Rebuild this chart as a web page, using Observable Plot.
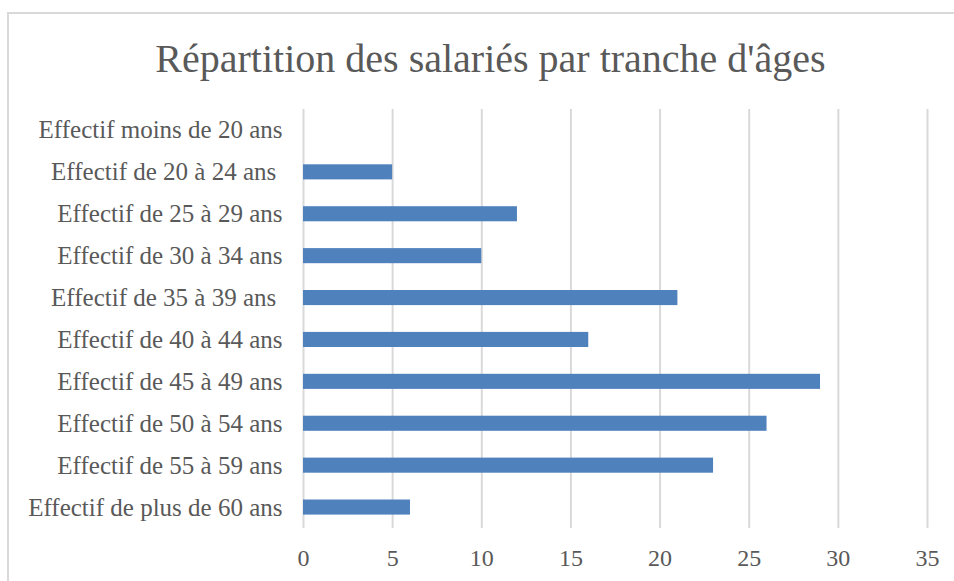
<!DOCTYPE html>
<html>
<head>
<meta charset="utf-8">
<script src="https://cdn.jsdelivr.net/npm/d3@7"></script>
<script src="https://cdn.jsdelivr.net/npm/@observablehq/plot@0.6"></script>
<style>
  html, body { margin: 0; padding: 0; background: #fff; }
  #wrap { position: relative; width: 954px; height: 581px; overflow: hidden; }
  #frame { position: absolute; left: 7px; top: 12px; width: 960px; height: 600px; border: 2px solid #d9d9d9; box-sizing: border-box; }
  #chart { position: absolute; left: 0; top: 0; }
</style>
</head>
<body>
<div id="wrap"><div id="frame"></div><div id="chart"></div></div>
<script>
const title = "Répartition des salariés par tranche d'âges";
const categories = [
  "Effectif moins de 20 ans",
  "Effectif de 20 à 24 ans ",
  "Effectif de 25 à 29 ans",
  "Effectif de 30 à 34 ans",
  "Effectif de 35 à 39 ans ",
  "Effectif de 40 à 44 ans",
  "Effectif de 45 à 49 ans",
  "Effectif de 50 à 54 ans",
  "Effectif de 55 à 59 ans",
  "Effectif de plus de 60 ans"
];
const values = [0, 5, 12, 10, 21, 16, 29, 26, 23, 6];
const xTicks = [0, 5, 10, 15, 20, 25, 30, 35];

const data = categories.map((c, i) => ({category: c, value: values[i]}));
const font = "'Liberation Serif', 'DejaVu Serif', serif";
const grey = "#595959";

const chart = Plot.plot({
  width: 954,
  height: 581,
  marginLeft: 303,
  marginRight: 27,
  marginTop: 109,
  marginBottom: 53,
  style: {fontFamily: font, color: grey, background: "transparent"},
  x: {domain: [0, 35], label: null},
  y: {domain: categories, paddingInner: 0.64, paddingOuter: 0.32, round: false, label: null},
  marks: [
    Plot.gridX(xTicks, {stroke: "#d9d9d9", strokeOpacity: 1, strokeWidth: 2}),
    Plot.barX(data, {x: "value", y: "category", fill: "#4f81bd"}),
    Plot.axisX(xTicks, {tickSize: 0, tickPadding: 20, fontSize: 24, fill: grey, label: null}),
    Plot.axisY({tickSize: 0, tickPadding: 21, fontSize: 25, fill: grey, label: null}),
    Plot.text([title], {frameAnchor: "top", dx: -125, dy: -66, fontSize: 40, fill: grey, fontFamily: font})
  ]
});
document.getElementById("chart").appendChild(chart);
</script>
</body>
</html>
